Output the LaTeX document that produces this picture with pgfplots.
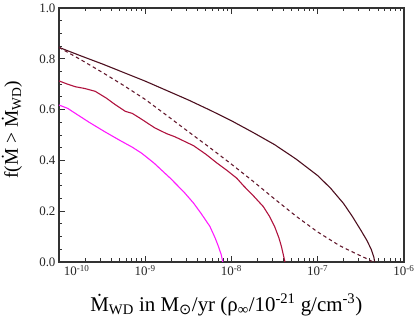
\documentclass[border=0pt]{standalone}
\usepackage{fontspec}
\setmainfont{Liberation Serif}
\newfontfamily\symfont{DejaVu Sans}
\usepackage{pgfplots}
\pgfplotsset{compat=1.18}
\definecolor{solidDark}{HTML}{4D0F1F}
\definecolor{dashDark}{HTML}{641A2E}
\definecolor{crimson}{HTML}{B0123E}
\definecolor{magentaLine}{HTML}{FF1AFF}
\definecolor{frame}{HTML}{333333}

\begin{document}
\begin{tikzpicture}
\path[use as bounding box] (0,0) rectangle (415bp,327bp);
\begin{axis}[
  at={(59bp,65bp)}, anchor=south west,
  width=345bp, height=254bp, scale only axis,
  xmode=log, xmin=1e-10, xmax=1e-6,
  ymin=0, ymax=1,
  xtick={1e-10,1e-9,1e-8,1e-7,1e-6},
  xticklabels={\makebox[0pt][l]{\hspace{5bp}10\textsuperscript{-10}},
    10\textsuperscript{-9},10\textsuperscript{-8},10\textsuperscript{-7},10\textsuperscript{-6}},
  ytick={0,0.2,0.4,0.6,0.8,1.0},
  minor y tick num=3,
  yticklabel style={/pgf/number format/fixed, /pgf/number format/precision=1,
    /pgf/number format/fixed zerofill, /pgf/number format/assume math mode=true},
  xtick pos=both, xticklabel pos=lower,
  ytick pos=left,
  tick align=inside,
  major tick length=6bp, minor tick length=3.5bp,
  every tick/.style={frame, line width=0.8bp},
  axis line style={frame, line width=1.5bp},
  ticklabel style={font=\fontsize{13}{15}\selectfont, text=black!85},
  xlabel style={font=\fontsize{21}{24}\selectfont},
  ylabel style={font=\fontsize{19.5}{22}\selectfont},
  xlabel={Ṁ\textsubscript{WD} in M\textsubscript{\symfont ⊙}/yr (ρ\textsubscript{∞}/10\textsuperscript{-21} g/cm\textsuperscript{-3})},
  ylabel={f(Ṁ > Ṁ\textsubscript{WD})},
  xlabel style={at={(axis description cs:0.485,-0.193)}, anchor=base},
  ylabel style={at={(axis description cs:-0.119,0.52)}, anchor=base},
  every axis plot/.append style={line width=1.1bp, line join=round},
]
% solid dark curve
\addplot[solidDark] coordinates {
  (1e-10,0.845) (1.778e-10,0.812) (3.162e-10,0.78) (5.623e-10,0.746) (1e-9,0.712)
  (1.778e-9,0.675) (3.162e-9,0.638) (5.623e-9,0.598) (1e-8,0.556) (1.778e-8,0.51)
  (3.162e-8,0.462) (5.623e-8,0.405) (1e-7,0.34) (1.413e-7,0.29) (1.995e-7,0.23)
  (2.512e-7,0.18) (3.162e-7,0.125) (3.715e-7,0.085) (4.169e-7,0.05) (4.467e-7,0.02)
  (4.571e-7,0.0)
};
% dashed dark curve
\addplot[dashDark, dash pattern=on 3.5bp off 3bp] coordinates {
  (1e-10,0.845) (1.778e-10,0.797) (3.162e-10,0.747) (5.623e-10,0.695) (1e-9,0.64)
  (1.778e-9,0.577) (3.162e-9,0.513) (5.623e-9,0.45) (1e-8,0.385) (1.778e-8,0.318)
  (3.162e-8,0.248) (5.623e-8,0.18) (1e-7,0.118) (1.778e-7,0.065) (2.512e-7,0.04)
  (3.162e-7,0.024) (3.981e-7,0.008) (4.365e-7,0.0)
};
% crimson curve
\addplot[crimson] coordinates {
  (1e-10,0.713) (1.259e-10,0.70) (1.55e-10,0.69) (1.995e-10,0.683) (2.63e-10,0.672)
  (3.548e-10,0.645) (4.467e-10,0.62) (5.89e-10,0.593) (7.079e-10,0.585) (8.71e-10,0.566)
  (1.29e-9,0.528) (1.778e-9,0.505) (2.21e-9,0.493) (3.63e-9,0.458) (5.012e-9,0.425)
  (6.76e-9,0.39) (8.913e-9,0.36) (1.15e-8,0.33) (1.38e-8,0.30) (1.778e-8,0.262)
  (2.34e-8,0.218) (2.754e-8,0.18) (3.16e-8,0.14) (3.548e-8,0.095) (3.80e-8,0.06)
  (3.981e-8,0.03) (4.17e-8,0.0)
};
% magenta curve
\addplot[magentaLine] coordinates {
  (1e-10,0.618) (1.259e-10,0.605) (1.55e-10,0.585) (2.239e-10,0.55) (3.39e-10,0.513)
  (5.13e-10,0.478) (7.079e-10,0.452) (9.12e-10,0.428) (1.259e-9,0.39) (1.95e-9,0.33)
  (2.818e-9,0.275) (3.63e-9,0.232) (4.467e-9,0.19) (5.62e-9,0.14) (6.457e-9,0.095)
  (7.08e-9,0.06) (7.586e-9,0.03) (7.94e-9,0.0)
};
\end{axis}
\end{tikzpicture}
\end{document}
